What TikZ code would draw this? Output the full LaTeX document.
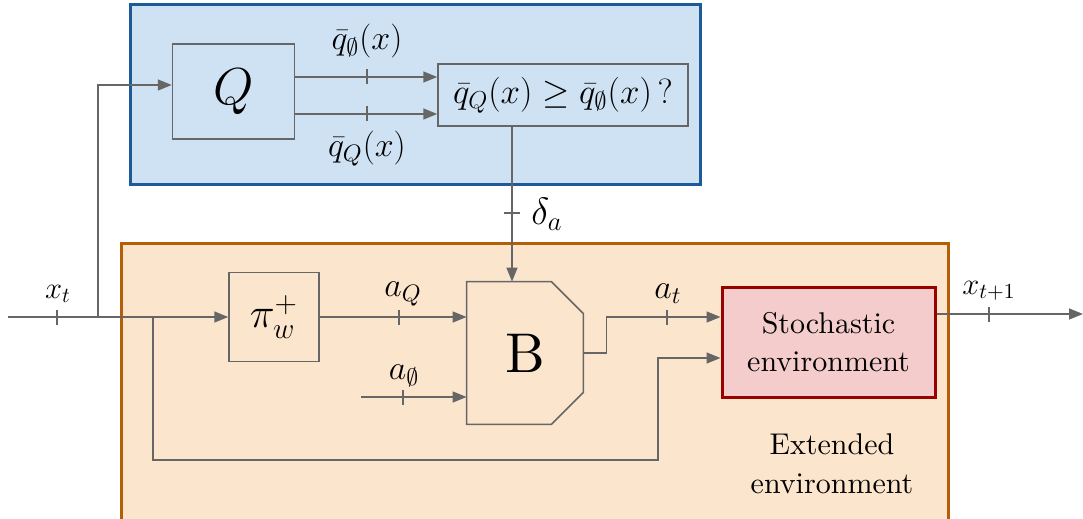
\RequirePackage{fix-cm}
\documentclass[tikz,border=0pt]{standalone}
\usepackage{fontspec}
\setmainfont{lmroman10-regular.otf}
\usetikzlibrary{arrows.meta,calc}
\definecolor{qfill}{HTML}{CFE2F3}
\definecolor{qborder}{HTML}{1C5A9A}
\definecolor{efill}{HTML}{FCE5CD}
\definecolor{eborder}{HTML}{B45F06}
\definecolor{sfill}{HTML}{F4CCCC}
\definecolor{sborder}{HTML}{990000}
\definecolor{linegray}{HTML}{666666}
\newcommand\tkv[1]{\draw[line] ($(#1)+(0,-7.5)$) -- ($(#1)+(0,7.5)$);}
\newcommand\tkh[1]{\draw[line] ($(#1)+(-8,0)$) -- ($(#1)+(8,0)$);}
\begin{document}
\begin{tikzpicture}[x=0.5pt,y=-0.5pt,
  line/.style={draw=linegray, line width=0.75pt},
  arr/.style={line, -{Triangle[length=7pt,width=5.5pt]}},
  blk/.style={draw=linegray, line width=0.75pt, inner sep=0pt},
  every node/.style={font=\fontsize{15}{19.3}\selectfont, inner sep=0pt},
  mlbl/.style={font=\fontsize{17}{20}\selectfont},
  xlbl/.style={font=\fontsize{15.3}{18}\selectfont}
]
\useasboundingbox (0,0) rectangle (1083,519);
\clip (0,0) rectangle (1083,519);

% containers
\node[draw=qborder, fill=qfill, line width=1.5pt, minimum width=285pt, minimum height=90pt] (qzone) at (415,95) {};
\node[draw=eborder, fill=efill, line width=1.5pt, minimum width=413.5pt, minimum height=150pt] (ezone) at (534.5,394) {};

% blocks
\node[blk, minimum width=61pt, minimum height=47.5pt, font=\fontsize{26}{28}\selectfont] (Q) at (233.5,91.5) {$Q$};
\node[blk, minimum width=125pt, minimum height=31pt, font=\fontsize{17.5}{20}\selectfont] (cmp) at (563,95) {$\bar q_Q(x)\geq\bar q_\emptyset(x)\,?$};
\node[blk, minimum width=45pt, minimum height=44.5pt, font=\fontsize{21}{24}\selectfont] (pi) at (274,317) {$\pi^+_w$};
\node[minimum width=58pt, minimum height=71pt, font=\fontsize{28}{30}\selectfont] (B) at (525,353) {B};
\draw[line] (B.north west) -- ($(B.north east)+(-32,0)$) -- ($(B.north east)+(0,32)$)
  -- ($(B.south east)+(0,-32)$) -- ($(B.south east)+(-32,0)$) -- (B.south west) -- cycle;
\node[draw=sborder, fill=sfill, line width=1.5pt, minimum width=106.5pt, minimum height=55pt, align=center] (S) at (828.5,342) {Stochastic\\environment};
\node[align=center] (ext) at (832,464) {Extended\\environment};

% coordinates
\coordinate (in) at (8,317);
\coordinate (b1) at (98,317);
\coordinate (b2) at (153,317);
\coordinate (y85) at (0,85);
\coordinate (y77) at (0,77);
\coordinate (y114) at (0,114);
\coordinate (y317) at (0,317);
\coordinate (y358) at (0,358);
\coordinate (y314) at (0,314);
\coordinate (dx) at (512,0);
\coordinate (a0) at (361,397);
\coordinate (lb) at (658,460);
\coordinate (out) at (1083,314);

% connectors
\draw[arr] (in) -- (pi.west);
\draw[arr] (b1) |- (Q.west |- y85);
\draw[arr] (Q.east |- y77) -- (cmp.west |- y77);
\draw[arr] (Q.east |- y114) -- (cmp.west |- y114);
\draw[arr] (cmp.south -| dx) -- (B.north -| dx);
\draw[arr] (pi.east) -- (B.west |- pi.east);
\draw[arr] (a0) -- (B.west |- a0);
\draw[arr] (B.east) -- ++(23,0) |- (S.west |- y317);
\draw[arr] (b2) |- (lb) |- (S.west |- y358);
\draw[arr] (S.east |- y314) -- (out);

% ticks
\tkv{57,317}
\tkv{367,77}
\tkv{367,114}
\tkh{512,213}
\tkv{399,317}
\tkv{403,397}
\tkv{667,317}
\tkv{989,314}

% labels
\node[xlbl] (lxt) at (58,294) {$x_t$};
\node[mlbl] (lq0) at (367,41) {$\bar q_\emptyset(x)$};
\node[mlbl] (lqQ) at (367,149) {$\bar q_Q(x)$};
\node[font=\fontsize{19}{22}\selectfont] (ld) at (547,214) {$\delta_a$};
\node[mlbl] (laQ) at (403,294) {$a_Q$};
\node[mlbl] (la0) at (404,376) {$a_\emptyset$};
\node[mlbl] (lat) at (668,294) {$a_t$};
\node[xlbl] (lxt1) at (989,291) {$x_{t+1}$};
\end{tikzpicture}
\end{document}
